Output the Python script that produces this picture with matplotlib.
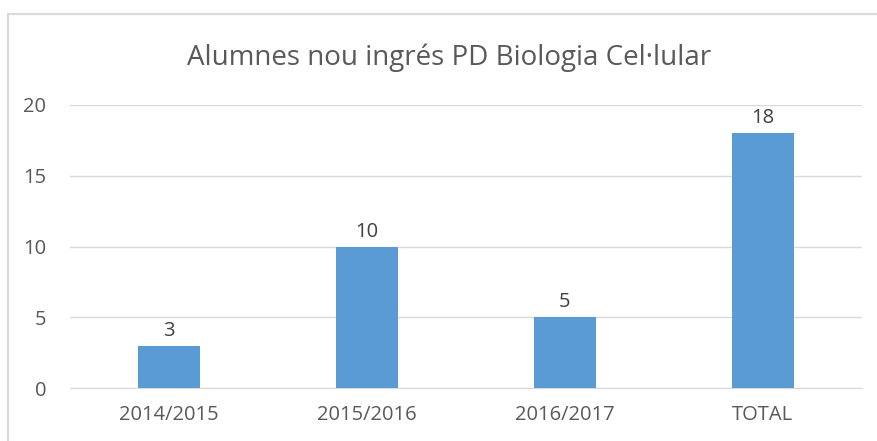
import matplotlib.pyplot as plt
import matplotlib.patches as mpatches

cursos = ['2014/2015', '2015/2016', '2016/2017', 'TOTAL']
alumnes = [3, 10, 5, 18]
yticks = [0, 5, 10, 15, 20]

gris = '#595959'
fig = plt.figure(figsize=(8.77, 4.41), dpi=100)
ax = fig.add_axes([0.0798, 0.120, 0.903, 0.642])

x = range(len(cursos))
barres = ax.bar(x, alumnes, width=0.31, color='#5B9BD5', zorder=3)
for b, v in zip(barres, alumnes):
    ax.text(b.get_x() + b.get_width() / 2, v + 0.35, str(v), ha='center', va='bottom',
            fontsize=14.5, color='#404040', family='Open Sans')

ax.set_xlim(-0.5, len(cursos) - 0.5)
ax.set_ylim(0, 20)
ax.set_yticks(yticks)
ax.set_xticks(list(x))
ax.set_xticklabels(cursos)
ax.yaxis.grid(True, color='#d9d9d9', linewidth=1, zorder=0)
for s in ['top', 'right', 'left']:
    ax.spines[s].set_visible(False)
ax.spines['bottom'].set_color('#d9d9d9')
ax.tick_params(length=0, labelsize=14.5, labelcolor=gris)
for lab in ax.get_xticklabels() + ax.get_yticklabels():
    lab.set_family('Open Sans')
ax.tick_params(axis='x', pad=12)
ax.tick_params(axis='y', pad=17)

fig.text(0.512, 0.868, 'Alumnes nou ingrés PD Biologia Cel·lular', ha='center', va='center',
         fontsize=20, color=gris, family='Open Sans')
# vora del gràfic (només esquerra i dalt visibles)
fig.patches.append(mpatches.Rectangle((0.0086, -0.1), 1.2, 1.069, transform=fig.transFigure,
                                      fill=False, edgecolor='#d9d9d9', linewidth=1.5))
fig.savefig('out.png', dpi=100)
